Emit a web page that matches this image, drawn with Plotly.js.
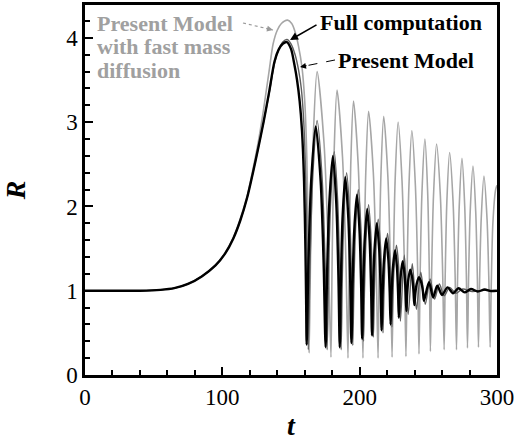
<!DOCTYPE html>
<html>
<head>
<meta charset="utf-8">
<script src="https://cdn.plot.ly/plotly-3.0.1.min.js"></script>
</head>
<body style="margin:0;background:#fff">
<div id="chart" style="width:515px;height:441px"></div>
<script>
// ---- Present Model with fast mass diffusion (light gray) ----
const tFast = [0,20,40,55,65,75,85,95,102,108,113,118,122,126,130,134,137,140,143,147.5,150.5,153,155.5,158,160,161.5,162.5,163.2,
164.36,166.1,169,174.05,177.1,179.1,
179.98,181.3,183.5,187.5,189.9,191.5,
192.3,193.5,195.5,198.95,201.0,202.4,
203.2,204.45,206.5,209.95,212.0,213.4,
214.2,215.45,217.5,220.55,222.4,223.6,
224.5,225.8,228,230.85,232.6,233.7,
234.56,235.85,238,240.6,242.2,243.2,
244.06,245.35,247.5,249.5,250.7,251.5,
252.4,253.75,256,258.75,260.4,261.5,
262.3,263.5,265.5,268,269.5,270.5,
271.3,272.5,274.5,276.5,277.7,278.5,
279.3,280.5,282.5,284.5,285.7,286.5,
287.3,288.5,290.5,292.75,294.1,295,
295.8,297,299,300];
const rFast = [1,1,1,1.01,1.03,1.08,1.17,1.3,1.45,1.63,1.85,2.12,2.42,2.75,3.15,3.6,3.93,4.09,4.17,4.21,4.17,4.07,3.9,3.65,3.25,2.6,1.6,0.26,
1.53,2.77,3.6,2.75,1.5,0.21,
1.41,2.59,3.38,2.59,1.41,0.2,
1.36,2.49,3.25,2.49,1.36,0.2,
1.31,2.4,3.13,2.4,1.31,0.2,
1.29,2.35,3.07,2.35,1.3,0.21,
1.27,2.3,3.0,2.3,1.28,0.22,
1.24,2.23,2.9,2.24,1.26,0.25,
1.22,2.16,2.8,2.17,1.24,0.28,
1.21,2.12,2.74,2.13,1.23,0.3,
1.19,2.06,2.64,2.06,1.19,0.3,
1.16,2.0,2.57,2.0,1.18,0.32,
1.14,1.94,2.48,1.94,1.15,0.33,
1.1,1.85,2.36,1.85,1.1,0.33,
1.05,1.8,2.2,2.25];

// ---- Present Model (dark gray) ----
const tModel = [0,20,40,55,65,75,85,95,102,108,113,118,122,126,130,134,138,141,144,147,150,153,155.5,157.5,159.3,160.8,161.8,162.3,162.6,
163.9,165.8,169,172.65,174.84,176.3,
177.34,178.9,181.5,184,185.5,186.5,
187.3,188.5,190.5,192.75,194.1,195,
195.8,197,199,200.9,202.04,202.8,
203.54,204.65,206.5,208.25,209.3,210,
210.7,211.75,213.5,215.25,216.3,217,
217.66,218.65,220.3,221.9,222.86,223.5,
224.16,225.15,226.8,228.25,229.12,229.7,
232.5,235.3,238.3,241.3,244.5,247.8,251.3,254.5,258,261.5,265.5,270,275,282,290,300];
const rModel = [1,1,1,1.01,1.03,1.08,1.17,1.3,1.44,1.62,1.83,2.1,2.38,2.68,3.0,3.33,3.7,3.86,3.95,3.98,3.93,3.8,3.62,3.4,3.0,2.3,1.4,0.7,0.3,
1.33,2.34,3.02,2.34,1.33,0.3,
1.19,2.06,2.65,2.06,1.19,0.3,
1.1,1.88,2.4,1.89,1.13,0.35,
1.05,1.74,2.2,1.75,1.08,0.4,
1.02,1.62,2.02,1.63,1.05,0.45,
0.98,1.5,1.85,1.51,1.01,0.5,
0.95,1.39,1.68,1.4,0.99,0.57,
0.94,1.3,1.54,1.32,0.98,0.64,
1.42,0.72,1.32,0.78,1.22,0.84,1.14,0.9,1.08,0.94,1.04,0.97,1.02,0.99,1.005,1.0];

// ---- Full computation (black) ----
const tFull = [0,20,40,55,65,75,85,95,102,108,113,118,122,126,130,134,138,141,144,147,150,152.5,154.4,156.3,158,159.5,160.5,161,161.4,
162.72,164.7,168,171.6,173.76,175.2,
176.26,177.85,180.5,183,184.5,185.5,
186.3,187.5,189.5,191.75,193.1,194,
194.8,196,198,199.9,201.04,201.8,
202.54,203.65,205.5,207.25,208.3,209,
209.7,210.75,212.5,214.25,215.3,216,
216.66,217.65,219.3,220.9,221.86,222.5,
223.16,224.15,225.8,227.15,227.96,228.5,
229.06,229.9,231.3,232.65,233.46,234,
234.56,235.4,236.8,238.3,239.2,239.8,
240.48,241.5,243.2,245,246.08,246.8,
250.5,253.5,256.5,260,264,268,272,276.5,281,286,291,295.5,300];
const rFull = [1,1,1,1.01,1.03,1.08,1.17,1.3,1.44,1.62,1.83,2.1,2.38,2.68,3.0,3.35,3.72,3.86,3.93,3.95,3.87,3.68,3.5,3.25,2.9,2.3,1.5,0.9,0.36,
1.34,2.3,2.95,2.3,1.33,0.33,
1.19,2.03,2.6,2.03,1.19,0.33,
1.1,1.85,2.35,1.86,1.13,0.38,
1.05,1.7,2.14,1.71,1.08,0.43,
1.02,1.59,1.97,1.6,1.04,0.47,
0.98,1.47,1.8,1.48,1.01,0.53,
0.94,1.35,1.62,1.37,0.99,0.6,
0.93,1.26,1.48,1.28,0.98,0.68,
0.93,1.18,1.35,1.2,0.98,0.76,
0.95,1.13,1.25,1.15,0.99,0.83,
0.96,1.08,1.16,1.09,0.99,0.88,
1.1,0.92,1.06,0.95,1.04,0.97,1.03,0.98,1.02,0.99,1.015,0.995,1.0];

const xTickVals = [0,100,200,300];
const xTickText = ['0','100','200','300'];
const yTickVals = [0,1,2,3,4];
const yTickText = ['0','1','2','3','4'];

function fnt(size, color) { return {family: 'Liberation Serif', size: size, color: color}; }

const traces = [
  {x: tFast, y: rFast, mode: 'lines', name: 'Present Model with fast mass diffusion',
   line: {color: '#a6a6a6', width: 1.6, shape: 'spline', smoothing: 0.8}},
  {x: tModel, y: rModel, mode: 'lines', name: 'Present Model',
   line: {color: '#5e5e5e', width: 1.4, shape: 'spline', smoothing: 0.8}},
  {x: tFull, y: rFull, mode: 'lines', name: 'Full computation',
   line: {color: '#000000', width: 2.4, shape: 'spline', smoothing: 0.8}}
];

const layout = {
  width: 515, height: 441,
  margin: {l: 85, r: 18, t: 5, b: 66},
  paper_bgcolor: '#ffffff', plot_bgcolor: '#ffffff',
  showlegend: false,
  font: fnt(22, '#000'),
  xaxis: {
    showgrid: false, zeroline: false, showline: true, linewidth: 2.5, linecolor: '#000',
    mirror: true, ticks: 'inside', ticklen: 8, tickwidth: 2, tickcolor: '#000',
    tickfont: fnt(23, '#000'),
    range: [0, 300], tickmode: 'array', tickvals: xTickVals, ticktext: xTickText,
    minor: {dtick: 20, ticks: 'inside', ticklen: 5, tickwidth: 1.5, tickcolor: '#000'},
    title: {text: '<b><i>t</i></b>', font: fnt(28, '#000'), standoff: 12}
  },
  yaxis: {
    showgrid: false, zeroline: false, showline: true, linewidth: 2.5, linecolor: '#000',
    mirror: true, ticks: 'inside', ticklen: 8, tickwidth: 2, tickcolor: '#000',
    tickfont: fnt(23, '#000'),
    range: [0, 4.39], tickmode: 'array', tickvals: yTickVals, ticktext: yTickText,
    minor: {dtick: 0.2, ticks: 'inside', ticklen: 5, tickwidth: 1.5, tickcolor: '#000'},
    title: {text: '<b><i>R</i></b>', font: fnt(28, '#000'), standoff: 40}
  },
  annotations: [
    {xref: 'paper', yref: 'paper', x: 0.024, y: 0.951, text: '<b>Present Model</b>', showarrow: false,
     xanchor: 'left', yanchor: 'middle', font: fnt(22, '#a0a0a0')},
    {xref: 'paper', yref: 'paper', x: 0.024, y: 0.889, text: '<b>with fast mass</b>', showarrow: false,
     xanchor: 'left', yanchor: 'middle', font: fnt(22, '#a0a0a0')},
    {xref: 'paper', yref: 'paper', x: 0.024, y: 0.822, text: '<b>diffusion</b>', showarrow: false,
     xanchor: 'left', yanchor: 'middle', font: fnt(22, '#a0a0a0')},
    {xref: 'paper', yref: 'paper', x: 0.565, y: 0.954, text: '<b>Full computation</b>', showarrow: false,
     xanchor: 'left', yanchor: 'middle', font: fnt(22, '#000')},
    {xref: 'paper', yref: 'paper', x: 0.61, y: 0.851, text: '<b>Present Model</b>', showarrow: false,
     xanchor: 'left', yanchor: 'middle', font: fnt(22, '#000')},
    {xref: 'paper', yref: 'paper', x: 0.4976, y: 0.9054, ax: 28, ay: -16, text: '', showarrow: true,
     arrowhead: 2, arrowsize: 1, arrowwidth: 1.6, arrowcolor: '#000', standoff: 0},
    {xref: 'paper', yref: 'paper', x: 0.5218, y: 0.8324, ax: 8, ay: -1.6, text: '', showarrow: true,
     arrowhead: 2, arrowsize: 1, arrowwidth: 1.2, arrowcolor: '#000', standoff: 0},
    {xref: 'paper', yref: 'paper', x: 0.4563, y: 0.9324, ax: -8, ay: -1.8, text: '', showarrow: true,
     arrowhead: 2, arrowsize: 1, arrowwidth: 1.2, arrowcolor: '#999', standoff: 0}
  ],
  shapes: [
    {type: 'line', xref: 'paper', yref: 'paper', x0: 0.6068, y0: 0.8514, x1: 0.5218, y1: 0.8324,
     line: {color: '#000', width: 1, dash: 'dash'}},
    {type: 'line', xref: 'paper', yref: 'paper', x0: 0.3835, y0: 0.9514, x1: 0.4563, y1: 0.9324,
     line: {color: '#999', width: 1.2, dash: 'dot'}}
  ]
};

Plotly.newPlot('chart', traces, layout, {displayModeBar: false});
</script>
</body>
</html>
